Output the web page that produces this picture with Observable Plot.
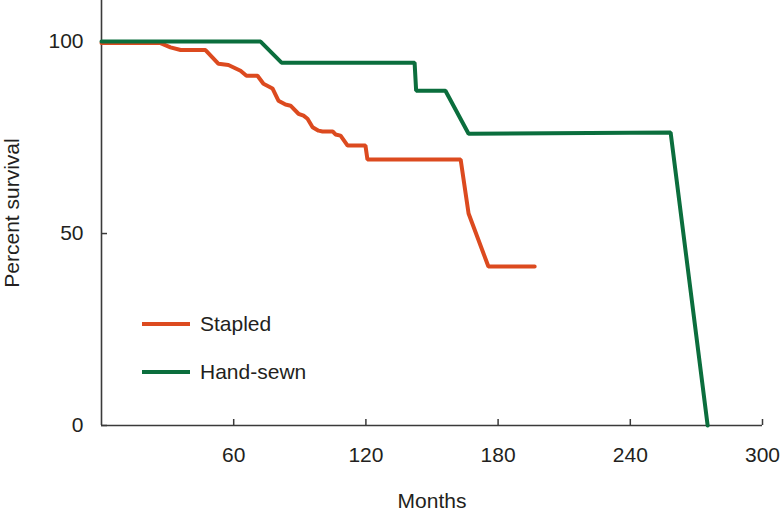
<!DOCTYPE html>
<html>
<head>
<meta charset="utf-8">
<script src="https://cdn.jsdelivr.net/npm/d3@7"></script>
<script src="https://cdn.jsdelivr.net/npm/@observablehq/plot@0.6"></script>
<style>
  html, body { margin: 0; padding: 0; background: #fff; }
  #wrap { position: relative; width: 780px; height: 514px; font-family: "Liberation Sans", Arial, sans-serif; color: #231f20; }
  #legend { position: absolute; left: 142px; top: 308px; font-size: 21px; }
  .item { display: flex; align-items: center; height: 32px; margin-bottom: 16px; }
  .sw { width: 48px; height: 4px; margin-right: 10px; }
</style>
</head>
<body>
<div id="wrap"></div>
<script>
// Data
const seriesNames = ["Stapled", "Hand-sewn"];
const seriesColors = ["#dc4a1f", "#0b6e3d"];

const stapledMonths  = [0, 26.8, 31.3, 35.9, 47.2, 53.1, 57.6, 63.1, 65.8, 70.8, 73.5, 77.6, 80.3, 83.5, 85.8, 89.4, 91.7, 93.5, 95.8, 98.5, 100.3, 104.9, 106.2, 108.5, 111.7, 119.8, 120.7, 163.0, 166.6, 175.6, 196.6];
const stapledPercent = [99.6, 99.6, 98.5, 97.8, 97.8, 94.2, 93.9, 92.4, 91.1, 91.1, 89.0, 87.8, 84.6, 83.6, 83.3, 81.2, 80.7, 79.9, 77.7, 76.8, 76.6, 76.6, 75.8, 75.5, 72.9, 72.9, 69.3, 69.3, 55.2, 41.4, 41.4];

const handsewnMonths  = [0, 72.2, 81.7, 142.1, 142.8, 156.1, 166.6, 258.3, 275.1];
const handsewnPercent = [100, 100, 94.5, 94.5, 87.2, 87.2, 76.0, 76.3, 0];

const xTicks = [60, 120, 180, 240, 300];
const yTicks = [0, 50, 100];

const xDomain = [0, 300];
const yDomain = [0, 110.7];

const W = 780, H = 514, mL = 101, mR = 18, mT = 0, mB = 89;
const tickPx = 6;
const tickY = tickPx * (yDomain[1] - yDomain[0]) / (H - mT - mB);
const tickX = tickPx * (xDomain[1] - xDomain[0]) / (W - mL - mR);

const stapled = stapledMonths.map((m, i) => ({month: m, pct: stapledPercent[i]}));
const handsewn = handsewnMonths.map((m, i) => ({month: m, pct: handsewnPercent[i]}));

const axisColor = "#3a3a3a";

const chart = Plot.plot({
  width: W, height: H,
  marginLeft: mL, marginRight: mR, marginTop: mT, marginBottom: mB,
  style: {fontFamily: "'Liberation Sans', Arial, sans-serif", fontSize: "21px", color: "#231f20", background: "#fff", overflow: "visible"},
  x: {domain: xDomain},
  y: {domain: yDomain},
  marks: [
    Plot.axisX({ticks: xTicks, tickSize: 0, tickPadding: 22, fontSize: 21, label: null}),
    Plot.axisX({ticks: [], tickSize: 0, label: "Months", labelAnchor: "center", labelOffset: 82, labelArrow: "none", fontSize: 21}),
    Plot.axisY({ticks: yTicks, tickSize: 0, tickPadding: 18, fontSize: 21, label: "Percent survival", labelAnchor: "center", labelOffset: 97, labelArrow: "none"}),
    Plot.ruleX(xTicks, {x: d => d, y1: 0, y2: tickY, stroke: axisColor, strokeWidth: 1.5}),
    Plot.ruleY(yTicks, {y: d => d, x1: 0, x2: tickX, stroke: axisColor, strokeWidth: 1.5}),
    Plot.ruleX([0], {stroke: axisColor, strokeWidth: 1.6}),
    Plot.ruleY([0], {stroke: axisColor, strokeWidth: 1.6}),
    Plot.line(stapled, {x: "month", y: "pct", stroke: seriesColors[0], strokeWidth: 4, strokeLinejoin: "miter"}),
    Plot.line(handsewn, {x: "month", y: "pct", stroke: seriesColors[1], strokeWidth: 4, strokeLinejoin: "miter"})
  ]
});

const wrap = document.getElementById("wrap");
wrap.appendChild(chart);

const legend = document.createElement("div");
legend.id = "legend";
seriesNames.forEach((name, i) => {
  const item = document.createElement("div");
  item.className = "item";
  const sw = document.createElement("span");
  sw.className = "sw";
  sw.style.background = seriesColors[i];
  const t = document.createElement("span");
  t.textContent = name;
  item.appendChild(sw);
  item.appendChild(t);
  legend.appendChild(item);
});
wrap.appendChild(legend);
</script>
</body>
</html>
